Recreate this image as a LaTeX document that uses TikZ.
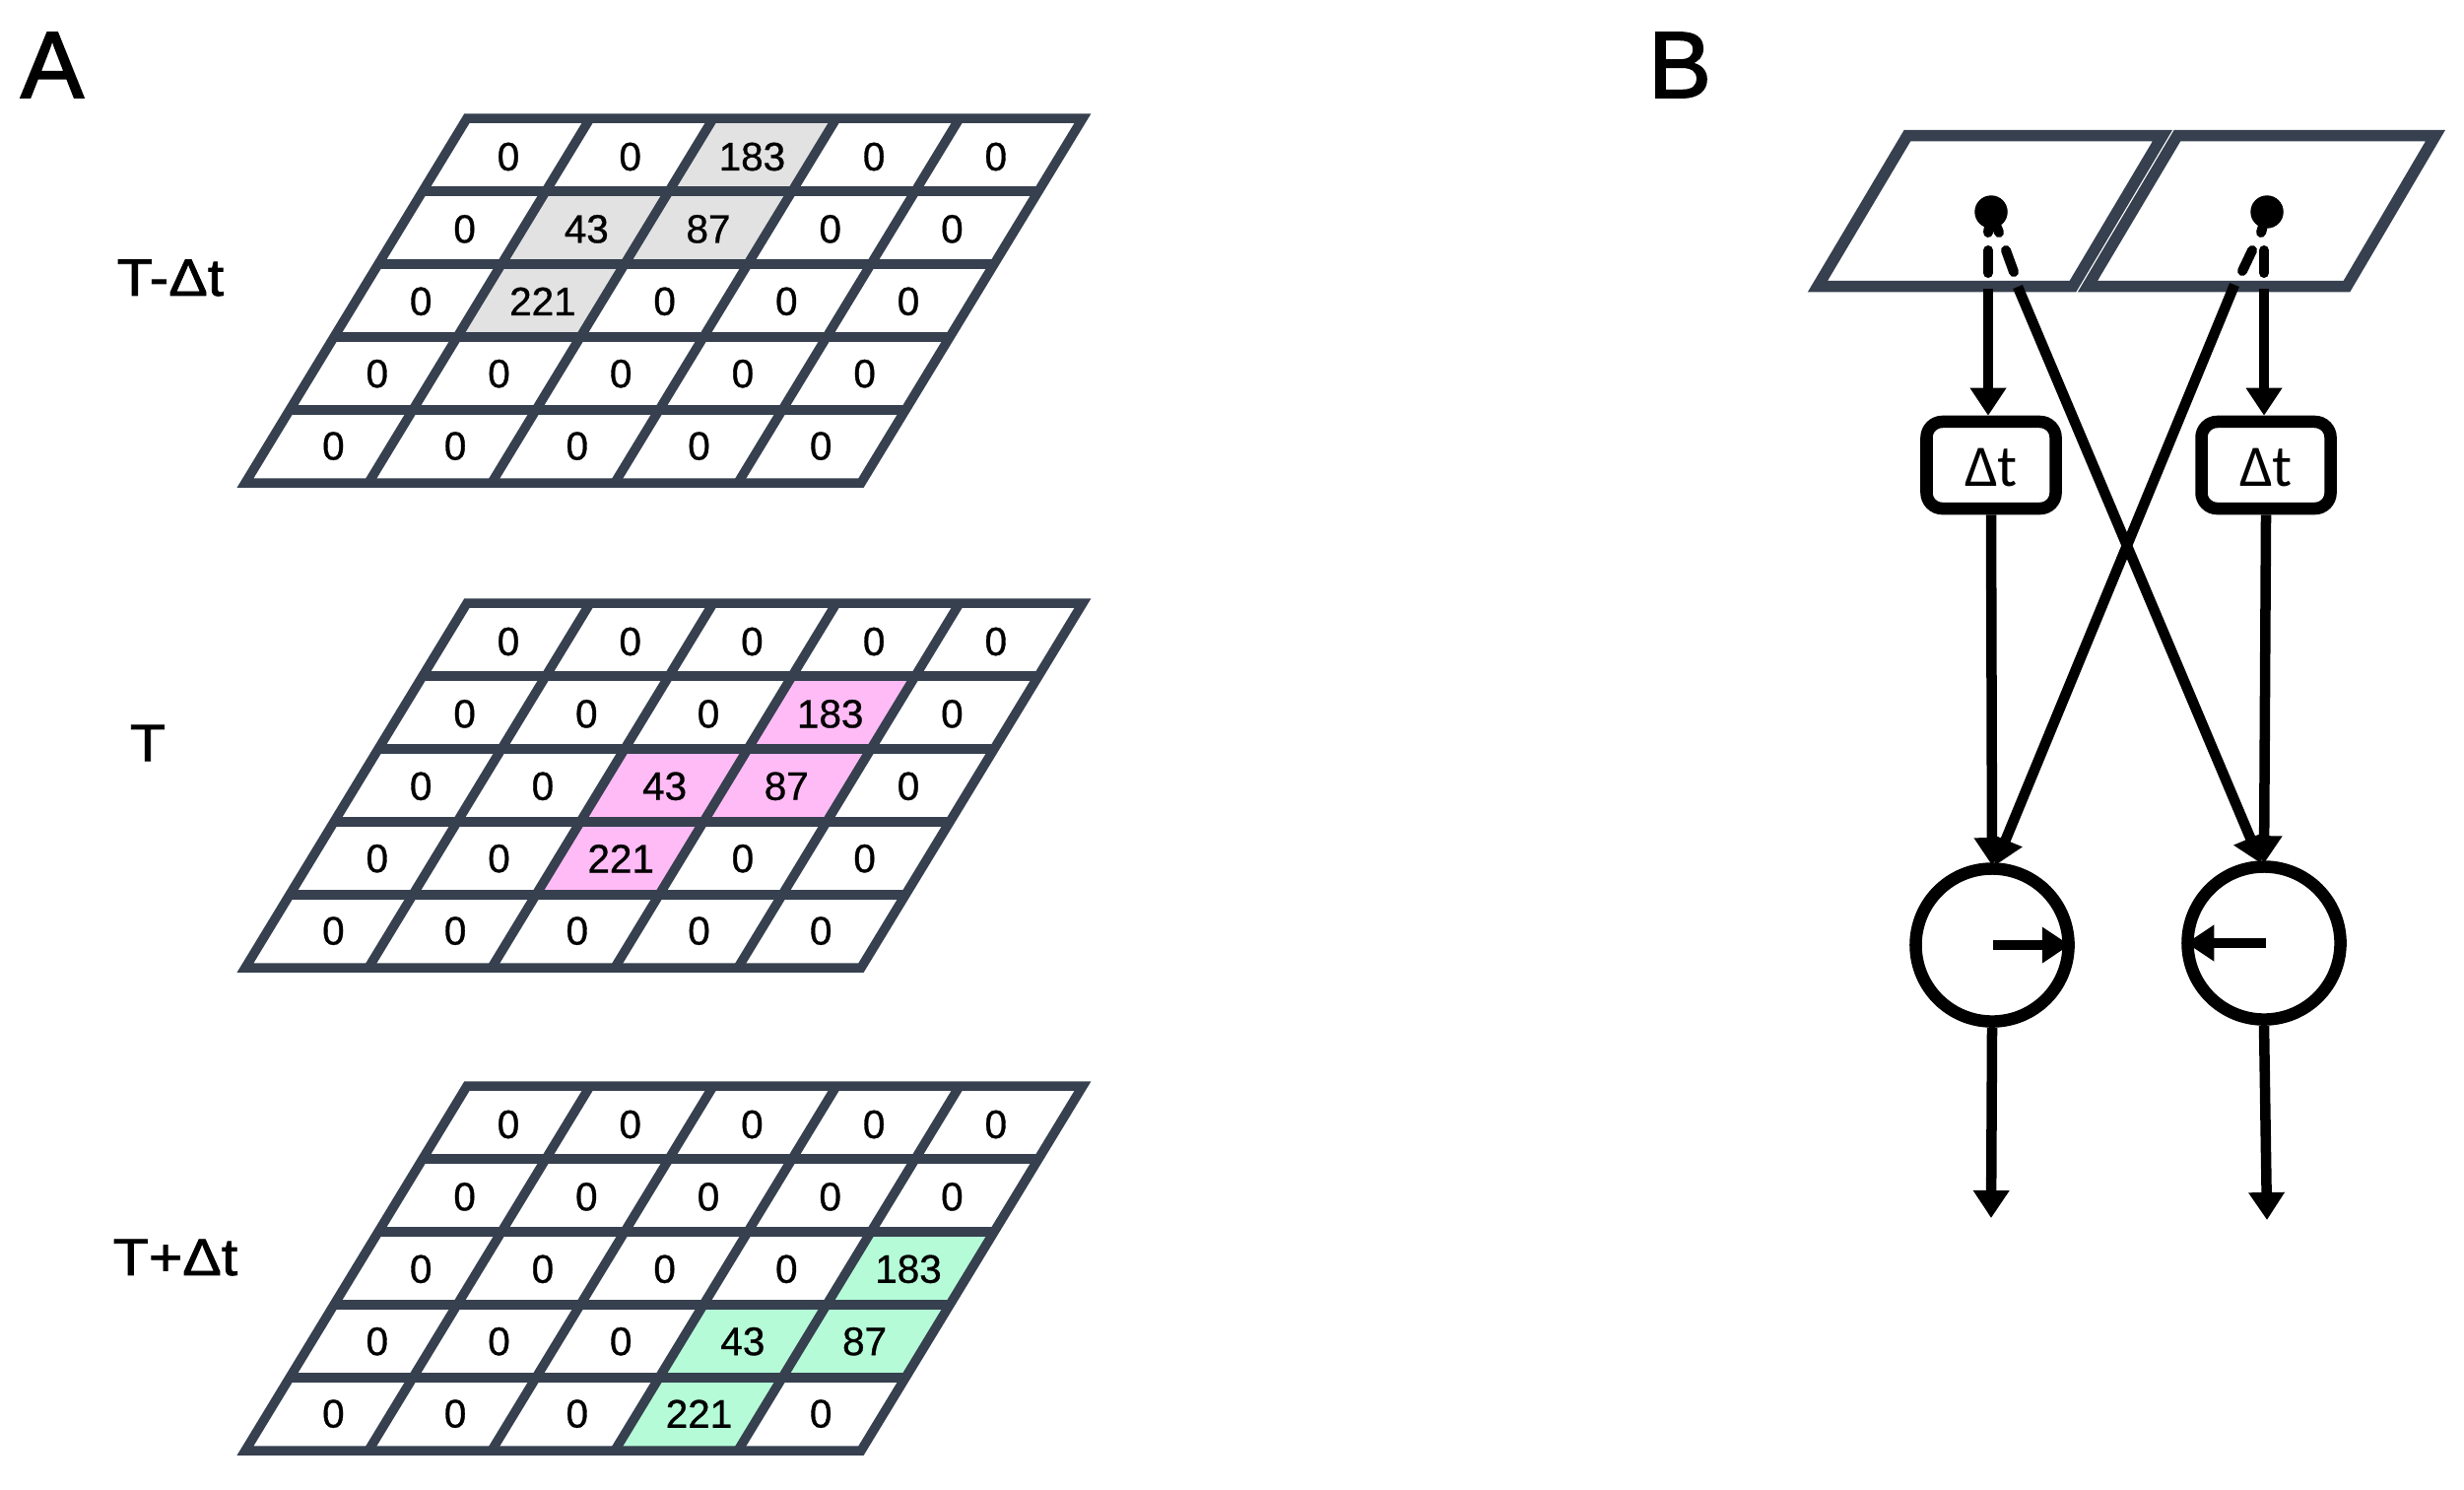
\documentclass[tikz,border=0pt]{standalone}
\usepackage{fontspec}
\setmainfont{Liberation Sans}
\newfontfamily\numfont[FakeBold=0.8]{Liberation Sans}
\newfontfamily\timefont[FakeBold=1.6,FakeStretch=1.12]{Liberation Sans}
\newfontfamily\panelfont[FakeBold=2]{Liberation Sans}
\newfontfamily\delayfont{Carlito}
\usetikzlibrary{arrows.meta,positioning,calc}
\definecolor{slateline}{HTML}{36404F}
\definecolor{pastgray}{HTML}{E2E2E2}
\definecolor{nowpink}{HTML}{FFBBF5}
\definecolor{nextgreen}{HTML}{B5FBD8}

\tikzset{
  gridline/.style={draw=slateline, line width=0.095cm, line join=miter},
  numlabel/.style={inner sep=0pt, font=\numfont\fontsize{11.5}{13}\selectfont},
  timelabel/.style={inner sep=0pt, font=\timefont\fontsize{15}{18}\selectfont},
  panellabel/.style={inner sep=0pt, font=\panelfont\fontsize{27.2}{32}\selectfont},
  field/.style={draw=slateline, line width=0.115cm, line join=miter},
  delaybox/.style={draw, line width=0.125cm, rounded corners=0.16cm, fill=white, inner sep=0pt,
    minimum width=1.31cm, minimum height=0.88cm, text height=0.42cm, text depth=0pt,
    font=\delayfont\fontsize{17}{20}\selectfont},
  neuron/.style={draw, circle, line width=0.125cm, inner sep=0pt, minimum size=1.55cm},
  conn/.style={-{Triangle[length=0.28cm,width=0.35cm]}, line width=0.105cm},
  dashpiece/.style={line width=0.10cm, line cap=round},
  pointdot/.style={draw, fill, circle, inner sep=0pt, minimum size=0.32cm},
}

% one layer: name, top y, fill, rows of values
\newcommand{\gridlayer}[4]{%
  \foreach \rowvals [count=\r from 0] in {#4} {
    \foreach \val [count=\c from 0] in \rowvals {
      \pgfmathsetmacro{\cx}{474-45*\r+125*\c}
      \pgfmathsetmacro{\cy}{#2+74*\r}
      \ifnum\val>0
        \fill[#3] (\cx,\cy) -- ++(125,0) -- ++(-45,74) -- ++(-125,0) -- cycle;
      \fi
      \node[numlabel] (#1-\r-\c) at (516-44.4*\r+123.7*\c,#2+39+73.4*\r) {\val};
    }
  }
  \foreach \k in {1,...,4} {
    \draw[gridline] (474-45*\k,#2+74*\k) -- ++(625,0);
    \draw[gridline] (474+125*\k,#2) -- ++(-225,370);
  }
  \draw[gridline] (474,#2) -- ++(625,0) -- ++(-225,370) -- ++(-625,0) -- cycle;
}

\begin{document}
\begin{tikzpicture}[x=0.01cm,y=-0.01cm]
\useasboundingbox (0,0) rectangle (2501,1511);

% panel A
\node[panellabel] (panelA) at (53,66) {A};
\node[timelabel] (past) at (173,282) {T-Δt};
\node[timelabel] (now) at (150,754) {T};
\node[timelabel] (next) at (178,1276) {T+Δt};

\gridlayer{past}{120}{pastgray}{{0,0,183,0,0},{0,43,87,0,0},{0,221,0,0,0},{0,0,0,0,0},{0,0,0,0,0}}
\gridlayer{now}{612}{nowpink}{{0,0,0,0,0},{0,0,0,183,0},{0,0,43,87,0},{0,0,221,0,0},{0,0,0,0,0}}
\gridlayer{next}{1102}{nextgreen}{{0,0,0,0,0},{0,0,0,0,0},{0,0,0,0,183},{0,0,0,43,87},{0,0,0,221,0}}

% panel B
\node[panellabel] (panelB) at (1705,66) {B};
\draw[field] (1936,137.5) -- (2195,137.5) -- (2104,290.5) -- (1845,290.5) -- cycle;
\draw[field] (2210,137.5) -- (2472,137.5) -- (2382,290.5) -- (2119,290.5) -- cycle;

% receptive points
\node[pointdot] (dotL) at (2021,215) {};
\node[pointdot] (dotR) at (2301,215) {};
\coordinate (stubL) at (2018,236);
\coordinate (stubLb) at (2029,236);
\coordinate (stubR) at (2295,236);
\draw[dashpiece] (dotL) -- (stubL);
\draw[dashpiece] (dotL) -- (stubLb);
\draw[dashpiece] (dotR) -- (stubR);

% dashes inside the fields
\coordinate (dashLa) at (2018,254);
\coordinate (dashLb) at (2018,277);
\coordinate (dashLc) at (2036,254);
\coordinate (dashLd) at (2044,276);
\coordinate (dashRa) at (2298,254);
\coordinate (dashRb) at (2298,277);
\coordinate (dashRc) at (2286,254);
\coordinate (dashRd) at (2276,275);
\draw[dashpiece] (dashLa) -- (dashLb);
\draw[dashpiece] (dashLc) -- (dashLd);
\draw[dashpiece] (dashRa) -- (dashRb);
\draw[dashpiece] (dashRc) -- (dashRd);

% delays and direction cells
\node[delaybox] (delayL) at (2021,472) {Δt};
\node[delaybox] (delayR) at (2300,472) {Δt};
\node[neuron] (cellL) at (2022,959) {};
\node[neuron] (cellR) at (2298,957) {};

\coordinate (startL) at (2018,293);
\coordinate (startR) at (2298,293);
\coordinate (crossL) at (2048,291);
\coordinate (crossR) at (2268,289);
\coordinate (outL) at (2021,1236);
\coordinate (outR) at (2301,1238);
\coordinate (inL) at (2023,959);
\coordinate (inR) at (2300,957);

\draw[conn] (startL) -- (delayL.north -| startL);
\draw[conn] (startR) -- (delayR.north -| startR);
\draw[conn] (delayL.south) -- ($(cellL.north)+(0,3)$);
\draw[conn] (delayR.south) -- ($(cellR.north)+(0,3)$);
\draw[conn] (crossL) -- ($(cellR.north)+(-3,3)$);
\draw[conn] (crossR) -- ($(cellL.north)+(3,3)$);
\draw[conn] (cellL.south) -- (outL);
\draw[conn] (cellR.south) -- (outR);
\draw[conn] (inL) -- ($(cellL.east)+(-5,0)$);
\draw[conn] (inR) -- ($(cellR.west)+(5,0)$);
\end{tikzpicture}
\end{document}
